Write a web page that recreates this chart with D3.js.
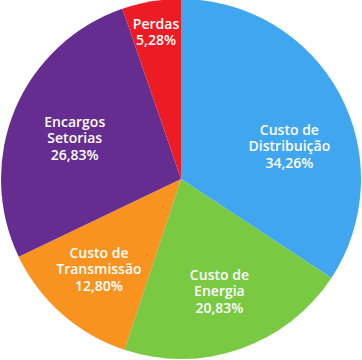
<!DOCTYPE html>
<html>
<head>
<meta charset="utf-8">
<script src="https://cdn.jsdelivr.net/npm/d3@7"></script>
<style>
  html, body { margin: 0; padding: 0; background: #fff; }
  svg { display: block; }
</style>
</head>
<body>
<svg id="chart" width="362" height="360"></svg>
<script>
const categories = [
  ["Custo de", "Distribuição"],
  ["Custo de", "Energia"],
  ["Custo de", "Transmissão"],
  ["Encargos", "Setorias"],
  ["Perdas"]
];
const values = [34.26, 20.83, 12.80, 26.83, 5.28];
const valueLabels = ["34,26%", "20,83%", "12,80%", "26,83%", "5,28%"];
const colors = ["#41a6f0", "#7ac943", "#f7931e", "#662d91", "#ed1c24"];

// label layout: radius fraction and pixel nudge per slice
const labelRadiusFrac = [0.64, 0.65, 0.69, 0.64, 0.84];
const labelNudge = [[7, 22], [0, 2], [0, -3], [0, 4], [0, 2]];

const width = 362, height = 360;
const cx = 181, cy = 179, R = 180;

const svg = d3.select("#chart");
const g = svg.append("g").attr("transform", `translate(${cx},${cy})`);

const pie = d3.pie().sort(null).value(d => d)(values);
const arc = d3.arc().innerRadius(0).outerRadius(R);

g.selectAll("path.slice")
  .data(pie)
  .join("path")
  .attr("class", "slice")
  .attr("d", arc)
  .attr("fill", (d, i) => colors[i]);

const lineH = 16.5;
pie.forEach((d, i) => {
  const lr = R * labelRadiusFrac[i];
  const la = d3.arc().innerRadius(lr).outerRadius(lr);
  const [x, y] = la.centroid(d);
  const lines = categories[i].concat([valueLabels[i]]);
  const n = lines.length;
  const t = g.append("text")
    .attr("x", x + labelNudge[i][0])
    .attr("y", y + labelNudge[i][1])
    .attr("text-anchor", "middle")
    .attr("fill", "#ffffff")
    .style("font-family", "'Open Sans', sans-serif")
    .style("font-weight", "600")
    .style("font-size", "14px");
  lines.forEach((ln, k) => {
    t.append("tspan")
      .attr("x", x + labelNudge[i][0])
      .attr("y", y + labelNudge[i][1] + (k - (n - 1) / 2) * lineH)
      .attr("dy", "0.35em")
      .text(ln);
  });
});
</script>
</body>
</html>
